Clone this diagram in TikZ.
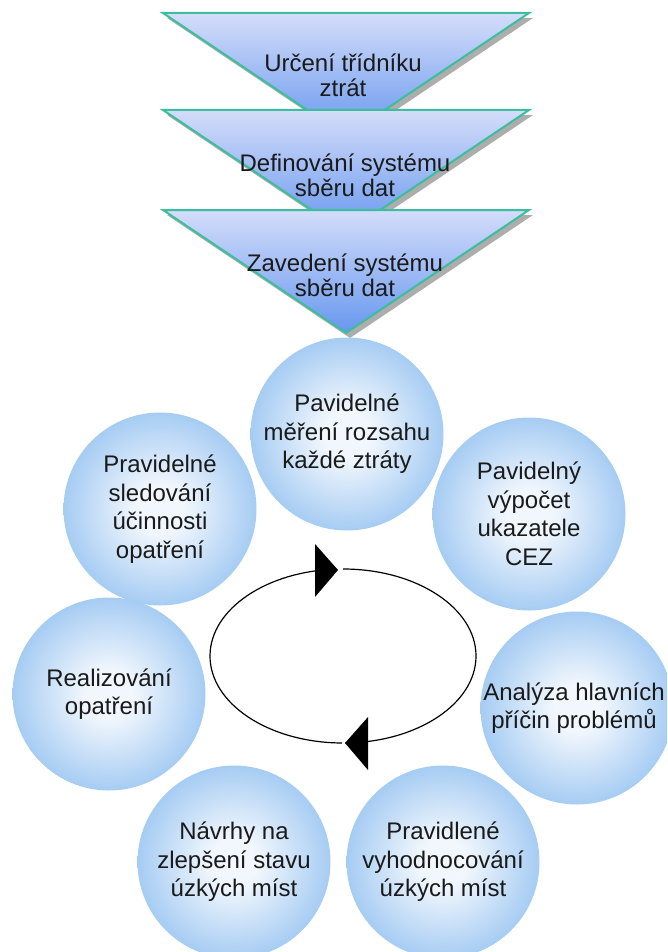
\documentclass[tikz,border=0pt]{standalone}
\usepackage{fontspec}
\setmainfont{Liberation Sans}
\definecolor{tritop}{HTML}{D4DDFA}
\definecolor{tribot}{HTML}{6797EE}
\definecolor{triedge}{HTML}{3CBE9C}
\definecolor{trishadow}{HTML}{ADADAD}
\definecolor{bubin}{HTML}{F2F7FD}
\definecolor{bubout}{HTML}{A6CCF3}
\definecolor{txt}{HTML}{1A1A1A}
\pgfdeclareradialshading{bubshade}{\pgfpoint{0bp}{0bp}}{color(0bp)=(bubin); color(6bp)=(bubin); color(25bp)=(bubout); color(50bp)=(bubout)}
\tikzset{
  bubble/.style={circle, minimum size=193pt, inner sep=0pt, shading=bubshade, align=center,
    text=txt, font=\fontsize{24}{28.5}\selectfont},
  tritext/.style={align=center, text=txt, inner sep=0pt, font=\fontsize{24}{25}\selectfont},
  trifill/.style={top color=tritop, bottom color=tribot, draw=triedge, line width=2pt, line join=miter},
  trishad/.style={fill=trishadow},
  loopline/.style={draw=black, line width=1.2pt},
  looptip/.style={fill=black},
}
\begin{document}
\begin{tikzpicture}[x=1pt,y=-1pt]
\useasboundingbox (0,0) rectangle (667,952);
\begin{scope}
\clip (0,0) rectangle (667,952);
% funnel of triangles
\foreach \t in {13,110,210}{
  \fill[trishad] (167,\t+5) -- (533,\t+5) -- (350,\t+128) -- cycle;
  \path[trifill] (163,\t) -- (529,\t) -- (346,\t+123) -- cycle;
}
\node[tritext] (t1) at (343,75) {Určení třídníku\\ztrát};
\node[tritext] (t2) at (345,175) {Definování systému\\sběru dat};
\node[tritext] (t3) at (345,275) {Zavedení systému\\sběru dat};
% circles
\node[bubble] (c1) at (347,434) {Pavidelné\\měření rozsahu\\každé ztráty};
\node[bubble] (c2) at (529,514) {Pavidelný\\výpočet\\ukazatele\\CEZ};
\node[bubble] (c3) at (577,708) {};
\node[text=txt, align=center, inner sep=0pt, font=\fontsize{24}{28.5}\selectfont] (c3t) at (574,708) {Analýza hlavních\\příčin problémů};
\node[bubble] (c4) at (443,862) {Pravidlené\\vyhodnocování\\úzkých míst};
\node[bubble] (c5) at (234,862) {Návrhy na\\zlepšení stavu\\úzkých míst};
\node[bubble] (c6) at (109,694) {Realizování\\opatření};
\node[bubble] (c7) at (160,509) {Pravidelné\\sledování\\účinnosti\\opatření};
% loop
\coordinate (loop) at (343,656);
\draw[loopline] (loop) ++(-90:133 and 87) arc[start angle=-90, end angle=89, x radius=133, y radius=87];
\draw[loopline] (loop) ++(90.5:133 and 87) arc[start angle=90.5, end angle=267.4, x radius=133, y radius=87];
\coordinate (toptip) at (338,570);
\coordinate (bottip) at (345,743);
\fill[looptip] (toptip) -- ++(-23,-26) -- ++(0,53) -- cycle;
\fill[looptip] (bottip) -- ++(23,-26) -- ++(0,53) -- cycle;
\end{scope}
\end{tikzpicture}
\end{document}
